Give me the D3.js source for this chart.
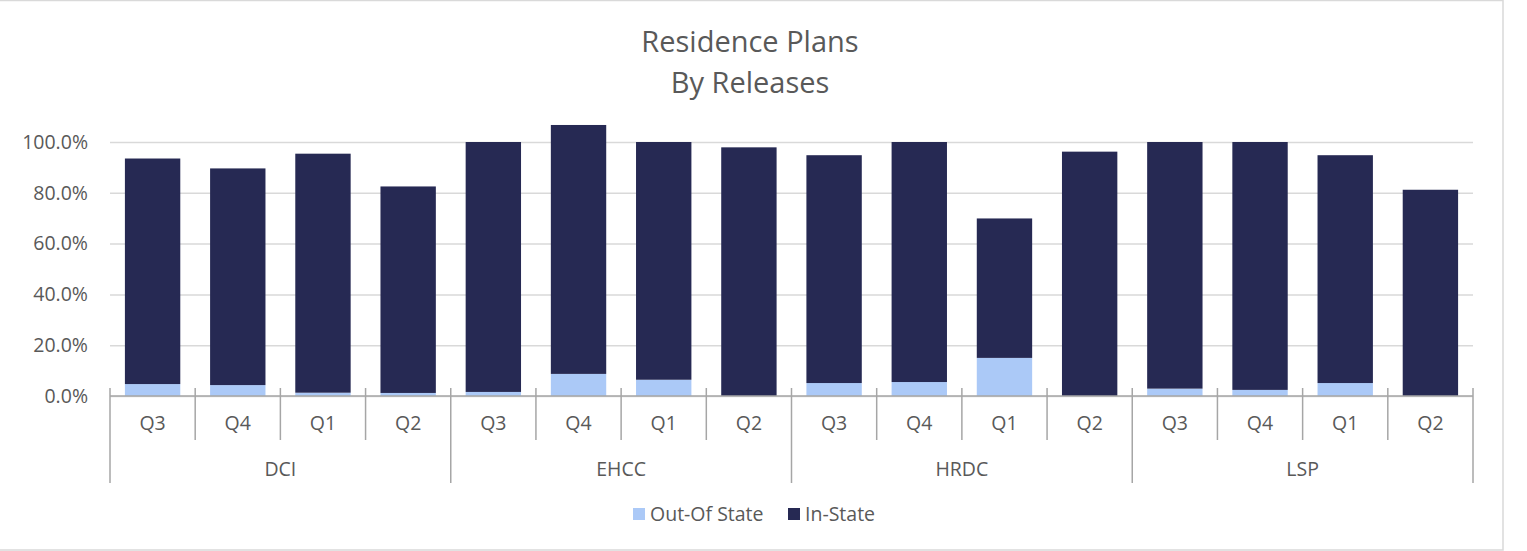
<!DOCTYPE html>
<html>
<head>
<meta charset="utf-8">
<script src="https://cdn.jsdelivr.net/npm/d3@7"></script>
<style>
  body { margin: 0; background: #fff; }
  text { font-family: "Open Sans", sans-serif; fill: #595959; }
</style>
</head>
<body>
<div class="chart"></div>
<script>
var svgWidth = 1527;
var svgHeight = 551;

// data (percent)
var groups = ["DCI", "EHCC", "HRDC", "LSP"];
var quarters = ["Q3", "Q4", "Q1", "Q2"];
var outOfState = [4.7, 4.3, 1.3, 1.2, 1.6, 8.7, 6.4, 0, 5.1, 5.5, 15.0, 0, 2.9, 2.4, 5.1, 0];
var inState = [88.8, 85.3, 94.1, 81.3, 98.4, 98.0, 93.6, 97.9, 89.7, 94.5, 54.9, 96.2, 97.1, 97.6, 89.7, 81.2];
var yTicks = [0, 20, 40, 60, 80, 100];
var seriesNames = ["Out-Of State", "In-State"];
var colors = ["#abc9f7", "#262953"];

var plot = { left: 110, right: 1473, top: 142, bottom: 396 };

// flat list of categories, one per bar
var cats = [];
groups.forEach(function(g) {
  quarters.forEach(function(q) {
    cats.push({ group: g, quarter: q, key: g + "-" + q });
  });
});
cats.forEach(function(c, i) {
  c.out = outOfState[i];
  c.in = inState[i];
});

var svg = d3.select(".chart")
  .append("svg")
  .attr("width", svgWidth)
  .attr("height", svgHeight);

// chart border
svg.append("rect")
  .attr("x", -2)
  .attr("y", 0.5)
  .attr("width", 1505)
  .attr("height", 549.5)
  .attr("fill", "none")
  .attr("stroke", "#d9d9d9")
  .attr("stroke-width", 1.5);

var xScale = d3.scaleBand()
  .domain(cats.map(d => d.key))
  .range([plot.left, plot.right])
  .paddingInner(0.35)
  .paddingOuter(0.175);

var yScale = d3.scaleLinear()
  .domain([0, 100])
  .range([plot.bottom, plot.top]);

// y axis + gridlines
var leftAxis = d3.axisLeft(yScale)
  .tickValues(yTicks)
  .tickFormat(d => d.toFixed(1) + "%")
  .tickSize(-(plot.right - plot.left))
  .tickPadding(22);

var yAxis = svg.append("g")
  .attr("transform", `translate(${plot.left}, 0)`)
  .call(leftAxis);
yAxis.select(".domain").remove();
yAxis.selectAll("line").attr("stroke", "#d9d9d9").attr("stroke-width", 1.5);
yAxis.selectAll("text")
  .style("font-family", "'Open Sans', sans-serif")
  .style("font-size", "19.5px")
  .attr("fill", "#595959");

// stacked bars
var stack = d3.stack().keys(["out", "in"]);
var layers = stack(cats);

svg.append("g")
  .selectAll("g")
  .data(layers)
  .enter()
  .append("g")
  .attr("fill", (d, i) => colors[i])
  .selectAll("rect")
  .data(d => d)
  .enter()
  .append("rect")
  .attr("x", d => xScale(d.data.key))
  .attr("width", xScale.bandwidth())
  .attr("y", d => yScale(d[1]))
  .attr("height", d => yScale(d[0]) - yScale(d[1]));

// category axis
var step = xScale.step();
var edge = (step - xScale.bandwidth()) / 2;
var axisG = svg.append("g");

axisG.append("line")
  .attr("x1", plot.left)
  .attr("x2", plot.right)
  .attr("y1", plot.bottom)
  .attr("y2", plot.bottom)
  .attr("stroke", "#a6a6a6")
  .attr("stroke-width", 1.5);

var bounds = d3.range(cats.length + 1);
axisG.selectAll(".divider")
  .data(bounds)
  .enter()
  .append("line")
  .attr("class", "divider")
  .attr("x1", i => plot.left + i * step)
  .attr("x2", i => plot.left + i * step)
  .attr("y1", plot.bottom - 8)
  .attr("y2", i => (i % quarters.length === 0) ? 483 : 440)
  .attr("stroke", "#a6a6a6")
  .attr("stroke-width", 1.5);

axisG.selectAll(".qlabel")
  .data(cats)
  .enter()
  .append("text")
  .attr("class", "qlabel")
  .attr("x", d => xScale(d.key) + xScale.bandwidth() / 2)
  .attr("y", 430)
  .attr("text-anchor", "middle")
  .style("font-size", "19.5px")
  .text(d => d.quarter);

axisG.selectAll(".glabel")
  .data(groups)
  .enter()
  .append("text")
  .attr("class", "glabel")
  .attr("x", (g, i) => plot.left + (i + 0.5) * quarters.length * step)
  .attr("y", 476)
  .attr("text-anchor", "middle")
  .style("font-size", "19.5px")
  .text(g => g);

// title
var title = svg.append("text")
  .attr("x", 750)
  .attr("text-anchor", "middle")
  .style("font-size", "29px");
title.append("tspan").attr("x", 750).attr("y", 52).text("Residence Plans");
title.append("tspan").attr("x", 750).attr("y", 93).text("By Releases");

// legend
var legendX = [633, 788];
var legend = svg.append("g")
  .selectAll("g")
  .data(seriesNames)
  .enter()
  .append("g")
  .attr("transform", (d, i) => `translate(${legendX[i]}, 508)`);

legend.append("rect")
  .attr("width", 12)
  .attr("height", 12)
  .attr("fill", (d, i) => colors[i]);

legend.append("text")
  .attr("x", 17)
  .attr("y", 13)
  .style("font-size", "19.5px")
  .text(d => d);
</script>
</body>
</html>
